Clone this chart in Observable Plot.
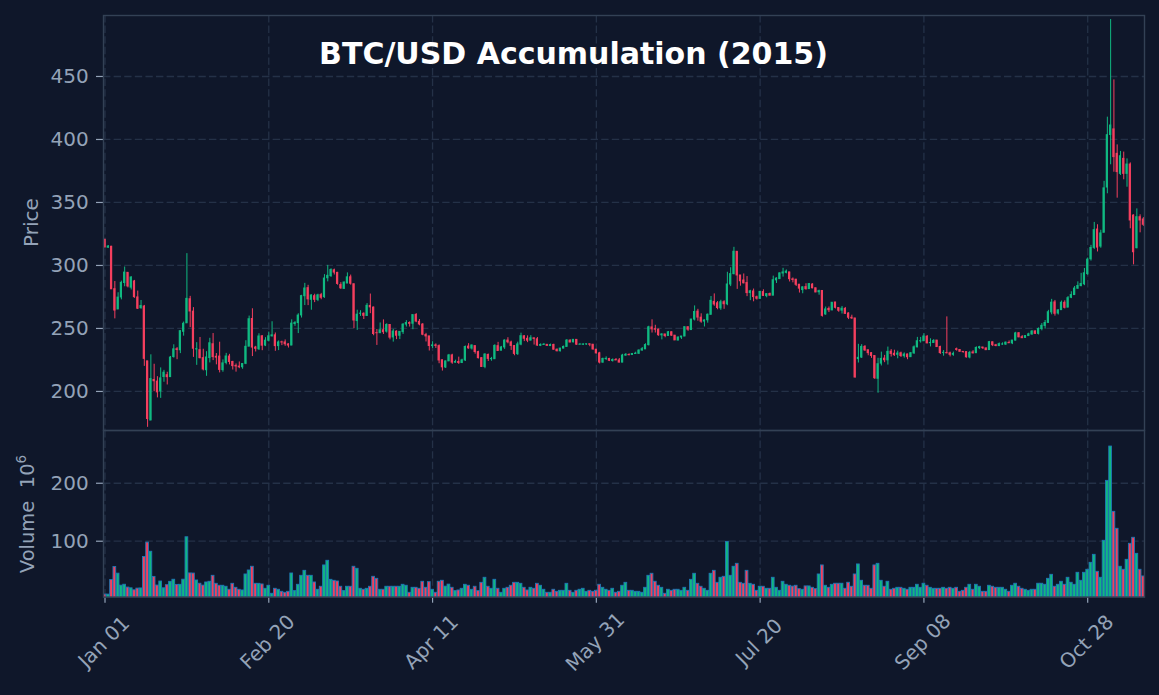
<!DOCTYPE html>
<html>
<head>
<meta charset="utf-8">
<script src="https://cdn.jsdelivr.net/npm/d3@7"></script>
<script src="https://cdn.jsdelivr.net/npm/@observablehq/plot@0.6"></script>
<style>
  html, body { margin: 0; padding: 0; background: #0f172a; }
  #chart { position: relative; width: 1159px; height: 695px; background: #0f172a; overflow: hidden; }
  #chart svg { position: absolute; left: 0; }
</style>
</head>
<body>
<div id="chart"></div>
<script>
// ---------------- data ----------------
const title = "BTC/USD Accumulation (2015)";
const startDay = "2015-01-01";

const opens = [
320.43,314.08,314.85,281.15,265.08,274.61,286.08,294.14,282.38,287.30,
274.61,266.15,267.39,223.89,176.90,209.07,207.83,200.05,211.47,212.91,
211.38,227.32,233.52,232.70,247.35,254.08,273.17,263.35,233.35,232.77,
226.44,216.87,226.49,237.45,227.51,227.66,216.92,222.63,227.69,223.39,
220.28,219.73,219.21,221.97,235.53,257.51,234.83,233.52,243.78,236.41,
240.25,243.75,244.54,235.99,238.99,238.89,237.34,236.43,253.52,254.28,
260.35,275.60,281.99,272.74,275.60,272.65,276.43,274.81,289.86,291.52,
296.13,294.12,284.44,281.43,285.68,290.60,285.07,255.88,261.64,261.64,
259.92,267.89,266.58,246.27,246.28,248.56,247.47,252.74,242.88,247.45,
244.22,247.09,253.06,254.29,253.76,260.72,255.27,253.06,244.75,243.69,
236.00,236.54,235.95,224.76,219.07,223.87,228.58,222.85,223.39,222.61,
224.62,235.60,234.05,235.97,231.23,226.41,219.43,228.97,225.59,225.60,
235.94,232.34,234.96,240.36,238.86,236.01,229.66,237.20,243.77,241.77,
240.30,242.14,241.40,236.22,236.90,237.00,236.02,236.90,233.10,231.90,
234.02,235.32,240.29,238.98,240.93,237.11,237.06,237.27,237.38,237.09,
233.13,230.23,222.89,225.70,225.79,224.15,225.00,224.62,222.88,228.46,
228.96,228.96,229.72,229.93,232.44,233.42,236.76,250.82,249.43,249.04,
244.53,245.26,244.03,246.97,244.28,240.37,242.82,243.59,250.96,248.72,
257.04,263.35,258.55,255.46,256.49,260.80,271.11,269.96,265.98,270.83,
269.16,284.88,293.14,310.83,292.03,288.05,286.04,278.09,279.33,274.77,
273.50,278.88,275.67,277.34,276.01,288.17,289.17,293.62,294.14,294.48,
288.95,288.70,284.69,280.45,282.81,281.22,284.85,281.91,278.74,279.74,
261.12,265.48,264.34,270.60,266.18,264.13,265.53,261.87,258.49,257.93,
225.67,226.90,235.35,232.70,230.38,228.11,210.07,222.08,226.05,224.70,
231.55,229.90,229.11,230.26,228.03,229.32,227.22,230.20,234.98,239.83,
239.85,243.41,238.34,238.47,240.38,235.24,230.61,230.49,230.25,229.08,
233.52,232.86,231.40,231.22,226.97,230.94,230.36,234.36,234.86,234.14,
232.85,239.02,236.64,236.00,237.26,237.20,238.53,238.15,240.36,246.17,
243.07,242.50,243.96,245.23,247.63,245.71,249.49,252.02,254.40,262.75,
270.68,261.86,264.55,270.36,266.51,274.36,276.50,281.54,283.62,285.07,
293.15,304.92,313.94,328.51,315.01,325.94,361.87,403.56,408.00,388.60,
372.70,384.60,372.70,380.10,339.60,313.70,338.30,336.50
];

const highs = [
320.43,315.84,315.15,287.23,278.34,287.55,298.75,294.14,291.11,288.13,
279.64,272.20,268.28,223.89,229.07,221.59,211.73,218.69,216.73,215.24,
227.79,237.02,234.84,248.21,255.07,309.38,275.48,266.54,238.71,242.85,
233.50,231.57,242.18,245.96,230.06,239.08,225.04,230.21,229.44,223.91,
221.81,223.41,222.20,240.26,259.81,265.61,235.80,245.78,244.25,242.67,
247.10,255.32,246.39,240.09,239.90,240.88,237.85,256.82,255.46,261.66,
276.30,285.79,284.23,276.72,277.15,277.18,277.85,292.70,300.04,297.39,
297.10,294.52,286.33,286.95,294.11,292.37,285.34,264.48,264.08,262.38,
269.75,277.30,267.00,249.18,254.35,256.81,253.68,253.14,249.24,248.12,
247.54,253.84,256.20,255.26,260.68,261.80,257.11,253.85,246.11,243.69,
239.48,237.73,236.93,224.76,224.17,229.40,229.51,224.81,227.22,225.61,
236.10,237.91,236.90,236.18,231.90,226.85,229.92,229.66,227.04,237.04,
238.97,235.73,240.95,242.64,239.91,236.41,239.10,246.26,244.33,244.10,
244.27,242.47,242.84,237.77,238.09,237.26,237.60,237.51,233.69,234.14,
236.03,241.18,241.04,241.04,241.03,238.10,237.80,237.67,237.80,237.10,
233.21,231.07,226.42,227.45,226.27,225.81,226.16,226.16,229.46,230.09,
229.88,230.15,231.15,233.06,234.87,237.84,251.74,256.85,252.52,249.46,
245.81,245.26,247.60,247.26,244.34,243.19,243.59,251.18,251.32,257.17,
267.87,265.18,261.63,256.80,261.46,275.36,277.42,271.34,272.38,272.00,
294.59,298.18,314.39,310.95,292.03,293.24,291.18,280.28,281.27,275.67,
279.40,280.70,277.52,278.09,291.53,290.24,294.15,297.73,296.43,294.54,
290.10,288.96,284.93,283.03,285.47,285.71,285.50,281.91,280.39,279.93,
267.00,267.03,270.39,270.67,266.23,267.47,266.67,262.44,260.51,257.99,
237.41,237.14,236.43,232.70,230.82,228.14,226.32,231.22,228.64,235.22,
233.22,232.72,231.96,231.22,230.58,229.60,230.90,236.14,242.91,242.90,
245.78,244.42,241.79,241.15,240.38,235.94,232.44,259.18,231.21,231.26,
234.42,233.20,231.65,231.22,231.80,232.35,235.40,235.83,235.00,234.51,
239.70,239.16,237.38,238.45,238.54,239.23,240.09,240.38,246.93,246.68,
244.34,244.20,246.23,248.33,248.04,250.40,253.87,256.30,264.38,273.08,
272.24,264.85,271.74,271.95,275.34,279.13,283.32,286.99,293.75,297.60,
305.93,315.95,334.17,332.32,327.95,366.76,417.70,495.20,447.30,395.70,
390.50,390.00,384.60,381.40,340.20,344.90,340.20,338.00
];

const lows = [
314.00,313.57,281.08,257.61,265.08,272.70,283.08,282.17,280.53,273.97,
265.04,265.20,219.91,171.51,176.90,199.77,194.88,194.51,207.32,205.15,
211.21,226.43,225.20,230.02,243.89,254.08,250.65,227.04,220.71,225.84,
216.31,212.02,222.66,224.48,221.11,214.72,215.24,221.11,221.08,217.01,
215.33,218.07,217.61,221.26,235.53,227.68,231.32,232.47,232.34,235.59,
239.30,243.18,231.86,232.42,236.39,235.82,234.47,236.34,251.67,245.93,
258.26,268.16,268.13,264.48,270.49,271.29,272.77,273.89,286.97,290.51,
292.41,284.35,280.97,280.98,285.68,284.37,249.87,248.47,259.56,257.10,
259.59,261.74,244.20,236.52,245.89,245.21,246.32,240.95,239.17,241.13,
241.16,245.27,251.13,251.12,249.00,254.57,252.10,244.22,239.28,232.08,
234.11,234.11,221.99,216.17,218.20,223.87,221.54,222.52,221.46,222.14,
223.78,233.49,232.87,229.58,225.83,219.14,218.04,223.77,223.99,225.60,
232.08,232.34,233.38,237.81,232.57,228.31,228.57,236.27,239.55,238.73,
240.30,236.82,235.86,235.62,236.53,235.90,235.96,232.81,231.37,231.35,
233.84,235.32,238.55,238.60,236.58,236.75,236.44,236.68,235.49,232.72,
229.75,221.84,222.42,224.63,223.71,223.32,224.57,222.70,222.84,227.96,
228.29,228.96,229.50,229.33,232.02,233.42,236.13,246.36,246.37,243.80,
240.93,242.61,243.92,243.71,240.51,240.37,241.28,243.54,247.71,248.58,
255.95,255.77,254.12,251.17,254.20,260.80,267.60,264.83,264.38,265.20,
268.06,283.22,292.50,281.01,283.57,285.37,275.24,272.04,271.15,272.51,
272.96,275.33,274.34,275.68,276.01,285.70,288.96,290.75,293.31,286.90,
286.20,283.33,278.11,277.53,280.33,281.22,281.49,278.40,276.37,259.00,
260.47,262.60,264.09,265.47,262.84,261.48,261.30,257.04,257.12,210.60,
222.56,226.21,231.72,228.33,226.26,209.50,198.60,220.23,222.83,220.93,
227.30,227.81,225.91,226.94,226.47,225.18,227.05,229.44,234.70,238.38,
239.68,237.81,235.32,238.47,235.23,229.33,227.96,229.82,227.40,227.90,
231.98,231.20,230.39,226.52,225.91,229.69,230.30,233.22,233.28,232.54,
232.69,235.59,235.45,235.62,236.60,236.57,238.05,237.17,240.09,242.59,
241.89,242.20,243.66,244.57,245.15,244.82,248.08,249.47,254.22,260.83,
259.79,260.64,264.55,265.46,266.51,273.65,276.50,281.10,283.07,283.97,
292.13,303.49,312.72,310.71,313.66,325.94,356.90,379.90,374.00,353.40,
371.40,368.00,362.10,329.10,300.50,313.20,325.90,331.00
];

const closes = [
314.25,315.03,281.08,264.20,274.47,286.19,294.34,283.35,290.41,274.80,
265.66,267.80,225.86,178.10,209.84,208.10,199.26,210.34,214.86,211.32,
226.90,233.41,232.88,247.85,253.72,273.47,263.48,233.91,233.51,226.43,
217.46,226.97,238.23,227.27,226.85,217.11,222.27,227.75,223.41,220.11,
219.84,219.18,221.76,235.43,257.32,234.82,233.84,243.61,236.33,240.28,
243.78,244.53,235.98,238.89,238.85,237.47,236.43,253.83,254.26,260.23,
275.67,281.70,273.09,276.18,272.72,276.26,274.35,289.61,291.76,296.38,
294.35,285.34,281.88,286.39,290.59,285.51,256.30,260.93,261.75,260.02,
267.96,266.74,245.59,246.20,248.53,247.03,252.80,242.71,247.53,244.22,
247.27,253.00,254.32,253.70,260.60,255.49,253.18,245.02,243.68,236.07,
236.55,236.15,224.59,219.16,223.83,228.57,222.88,223.36,222.60,224.63,
235.27,234.18,236.47,231.27,226.39,219.43,229.29,225.85,225.81,236.15,
232.08,234.93,240.36,239.02,236.12,229.78,237.33,243.86,241.83,240.30,
242.21,241.71,236.38,236.90,237.11,236.15,236.80,233.13,231.95,234.02,
235.34,240.35,238.87,240.95,237.11,237.12,237.28,237.41,237.10,233.35,
230.19,222.93,225.80,225.87,224.32,224.95,224.60,222.88,228.49,229.05,
228.80,229.71,229.98,232.40,233.54,236.82,250.90,249.28,249.01,244.61,
245.21,243.94,246.99,244.30,240.51,242.80,243.59,250.99,249.01,257.06,
263.07,258.62,255.41,256.34,260.89,271.91,269.03,266.21,270.79,269.23,
284.89,293.12,310.87,292.05,287.46,285.83,278.09,279.47,274.90,273.61,
278.98,275.83,277.22,276.05,288.28,289.59,293.70,294.43,295.10,289.10,
288.49,284.65,281.60,282.61,281.23,285.22,281.88,278.58,279.58,260.00,
265.08,264.47,270.39,266.38,264.08,265.68,261.55,258.51,257.98,211.08,
226.68,235.35,232.57,230.39,228.17,210.50,221.61,225.83,224.77,231.40,
229.78,228.76,230.06,228.12,229.28,227.18,230.30,235.02,239.84,239.85,
243.61,238.17,238.48,240.11,235.23,230.51,230.64,230.30,229.09,229.81,
232.98,231.49,231.21,227.09,230.62,230.28,234.53,235.14,234.34,232.76,
239.14,236.69,236.06,237.55,237.29,238.73,238.26,240.38,246.06,242.97,
242.30,243.93,245.31,247.51,245.71,249.51,252.05,254.32,262.87,270.44,
261.64,264.35,270.39,266.37,274.02,276.50,281.65,283.68,285.30,293.79,
304.62,313.86,328.02,314.17,325.43,361.19,403.42,411.10,386.00,374.10,
386.70,372.70,380.10,335.70,310.50,338.30,335.70,332.30
];

// volume in millions (axis shows ×10^6)
const volumes = [
8.0,7.9,33.1,55.6,44.0,23.3,24.9,20.0,18.7,15.3,
18.2,18.5,72.8,97.6,81.8,38.4,23.5,30.4,18.7,24.1,
29.9,33.5,24.6,24.8,33.6,106.8,44.4,44.2,32.2,26.6,
23.4,28.8,30.0,40.3,26.5,23.1,23.1,21.4,16.2,26.5,
19.6,16.2,15.0,42.6,49.5,55.9,26.5,26.5,25.4,17.9,
23.1,9.3,17.9,16.2,12.7,11.0,12.7,44.3,13.9,24.8,
40.3,48.9,40.3,40.3,28.8,16.2,21.4,58.2,66.2,33.4,
31.7,30.5,21.4,13.9,21.4,21.4,55.9,52.4,17.9,16.2,
17.9,21.4,38.6,35.1,16.2,16.2,21.4,21.4,21.4,21.4,
21.4,24.8,23.1,11.0,19.6,19.6,17.9,30.0,19.6,29.4,
16.2,11.0,30.0,31.7,21.6,25.1,19.6,13.9,15.0,17.9,
24.8,23.1,16.2,21.4,13.9,28.2,36.9,21.4,17.9,33.4,
17.9,11.0,17.9,19.6,23.1,28.2,28.2,26.5,19.6,15.0,
19.6,17.9,26.5,23.1,16.2,11.0,11.0,16.2,12.7,14.4,
14.4,26.5,14.4,11.0,14.4,16.2,17.9,12.7,14.4,12.7,
14.4,24.8,19.6,16.2,14.4,17.9,11.0,12.7,23.1,28.2,
14.4,14.4,12.7,12.7,11.0,19.6,40.3,43.8,30.0,23.1,
19.6,9.3,16.2,14.4,16.2,16.2,14.4,19.6,14.4,33.4,
43.8,26.5,21.4,17.9,14.4,43.8,48.9,28.2,36.9,38.6,
98.9,40.3,55.9,61.0,28.2,26.5,48.9,26.5,24.8,14.4,
21.4,21.4,17.9,17.9,36.9,19.6,14.4,30.0,24.8,23.1,
21.7,23.1,17.3,16.2,22.0,22.0,19.6,17.3,42.6,58.2,
23.1,19.6,24.8,26.6,26.6,26.6,17.9,28.3,21.4,42.6,
59.9,31.7,23.1,23.1,17.9,58.2,61.0,31.7,21.4,30.0,
16.2,17.9,19.6,19.6,17.9,16.2,19.6,19.6,24.8,19.6,
26.6,23.1,19.6,17.9,17.9,17.9,19.6,17.9,19.6,17.9,
19.6,12.7,14.4,19.6,24.8,16.2,24.8,21.4,12.7,12.7,
23.1,21.4,19.6,19.6,19.6,16.2,12.7,23.1,26.6,21.4,
17.9,16.2,14.4,16.2,16.2,26.6,26.6,24.8,35.1,42.0,
21.4,24.8,30.0,24.8,36.9,28.3,24.8,45.5,31.7,45.5,
50.7,62.7,76.5,47.2,36.9,100.7,204.1,263.3,150.7,121.4,
55.9,50.7,67.9,95.5,105.9,78.2,50.7,39.2
];

const priceTicks = [200, 250, 300, 350, 400, 450];
const volumeTicks = [100, 200];
const tickDayOffsets = [0, 50, 100, 150, 200, 250, 300];
const tickLabels = ["Jan 01", "Feb 20", "Apr 11", "May 31", "Jul 20", "Sep 08", "Oct 28"];

// ---------------- styling ----------------
const UP = "#10b981";
const DOWN = "#f43f5e";
const VOL_EDGE = "#1f77b4";
const GRID = "#243147";
const FRAME = "#334155";
const LABEL = "#94a3b8";
const FONT = "DejaVu Sans";

// ---------------- build table ----------------
const DAY = 864e5;
const t0 = Date.parse(startDay);
const rows = opens.map((o, i) => ({
  date: new Date(t0 + i * DAY),
  open: o, high: highs[i], low: lows[i], close: closes[i],
  volume: volumes[i],
  color: closes[i] >= o ? UP : DOWN
}));
const tickDates = tickDayOffsets.map(k => new Date(t0 + k * DAY));
const xDomain = [new Date(t0 - 0.46 * DAY), new Date(t0 + 317.34 * DAY)];

const gridOpts = {stroke: GRID, strokeOpacity: 1, strokeWidth: 1.3, strokeDasharray: "7.4,3.2"};
const baseStyle = {background: "transparent", color: LABEL, fontFamily: FONT, fontSize: "20px", overflow: "visible"};
const yAxisOpts = {tickSize: 7, tickPadding: 7.7, fontSize: 20, stroke: LABEL, fill: LABEL, strokeWidth: 1.2, label: null};

// ---------------- price panel ----------------
const price = Plot.plot({
  width: 1159, height: 431,
  marginLeft: 103, marginRight: 15, marginTop: 15, marginBottom: 1,
  style: baseStyle,
  x: {type: "utc", domain: xDomain, axis: null},
  y: {domain: [169, 498.4], axis: null, label: null},
  color: {type: "identity"},
  marks: [
    Plot.gridX(tickDates, gridOpts),
    Plot.gridY(priceTicks, gridOpts),
    Plot.axisY(priceTicks, yAxisOpts),
    Plot.ruleX(rows, {x: "date", y1: "low", y2: "high", stroke: "color", strokeWidth: 1}),
    Plot.rect(rows, {
      x1: d => new Date(+d.date - 0.34 * DAY),
      x2: d => new Date(+d.date + 0.34 * DAY),
      y1: "open", y2: "close", fill: "color",
      insetTop: -0.5, insetBottom: -0.5
    }),
    Plot.frame({stroke: FRAME, strokeWidth: 1.4})
  ]
});

// ---------------- volume panel ----------------
const volume = Plot.plot({
  width: 1159, height: 265,
  marginLeft: 103, marginRight: 15, marginTop: 0, marginBottom: 98.3,
  style: baseStyle,
  x: {type: "utc", domain: xDomain, axis: null, label: null},
  y: {domain: [3.4, 291], axis: null, label: null},
  color: {type: "identity"},
  marks: [
    Plot.gridX(tickDates, gridOpts),
    Plot.gridY(volumeTicks, gridOpts),
    Plot.axisY(volumeTicks, yAxisOpts),
    Plot.axisX(tickDates, {tickSize: 6, tickFormat: () => "", stroke: LABEL, strokeWidth: 1.2, label: null}),
    Plot.text(tickDates, {
      x: d => d, frameAnchor: "bottom",
      text: (d, i) => tickLabels[i],
      rotate: -45, textAnchor: "middle", lineAnchor: "middle",
      dy: 45, dx: -1, fill: LABEL, fontSize: 20
    }),
    Plot.rect(rows, {
      x1: d => new Date(+d.date - 0.42 * DAY),
      x2: d => new Date(+d.date + 0.42 * DAY),
      y1: 0, y2: "volume", fill: "color",
      stroke: VOL_EDGE, strokeWidth: 0.9, clip: true
    }),
    Plot.frame({stroke: FRAME, strokeWidth: 1.4})
  ]
});

const chart = document.getElementById("chart");
price.style.top = "0px";
volume.style.top = "430px";
chart.appendChild(volume);
chart.appendChild(price);

// title and axis labels
const ps = d3.select(price);
ps.append("text")
  .attr("x", 573.5).attr("y", 64)
  .attr("text-anchor", "middle")
  .attr("fill", "#ffffff")
  .attr("font-family", FONT)
  .attr("font-weight", "bold")
  .attr("font-size", 30)
  .text(title);
ps.append("text")
  .attr("transform", "translate(37.5,222.5) rotate(-90)")
  .attr("text-anchor", "middle")
  .attr("fill", LABEL)
  .attr("font-family", FONT)
  .attr("font-size", 20)
  .text("Price");

const vs = d3.select(volume);
const vl = vs.append("text")
  .attr("transform", "translate(34,84) rotate(-90)")
  .attr("text-anchor", "middle")
  .attr("fill", LABEL)
  .attr("font-family", FONT)
  .attr("font-size", 19.5)
  .style("white-space", "pre");
vl.append("tspan").text("Volume  10");
vl.append("tspan").attr("font-size", 13.5).attr("dy", -8).text("6");
</script>
</body>
</html>
